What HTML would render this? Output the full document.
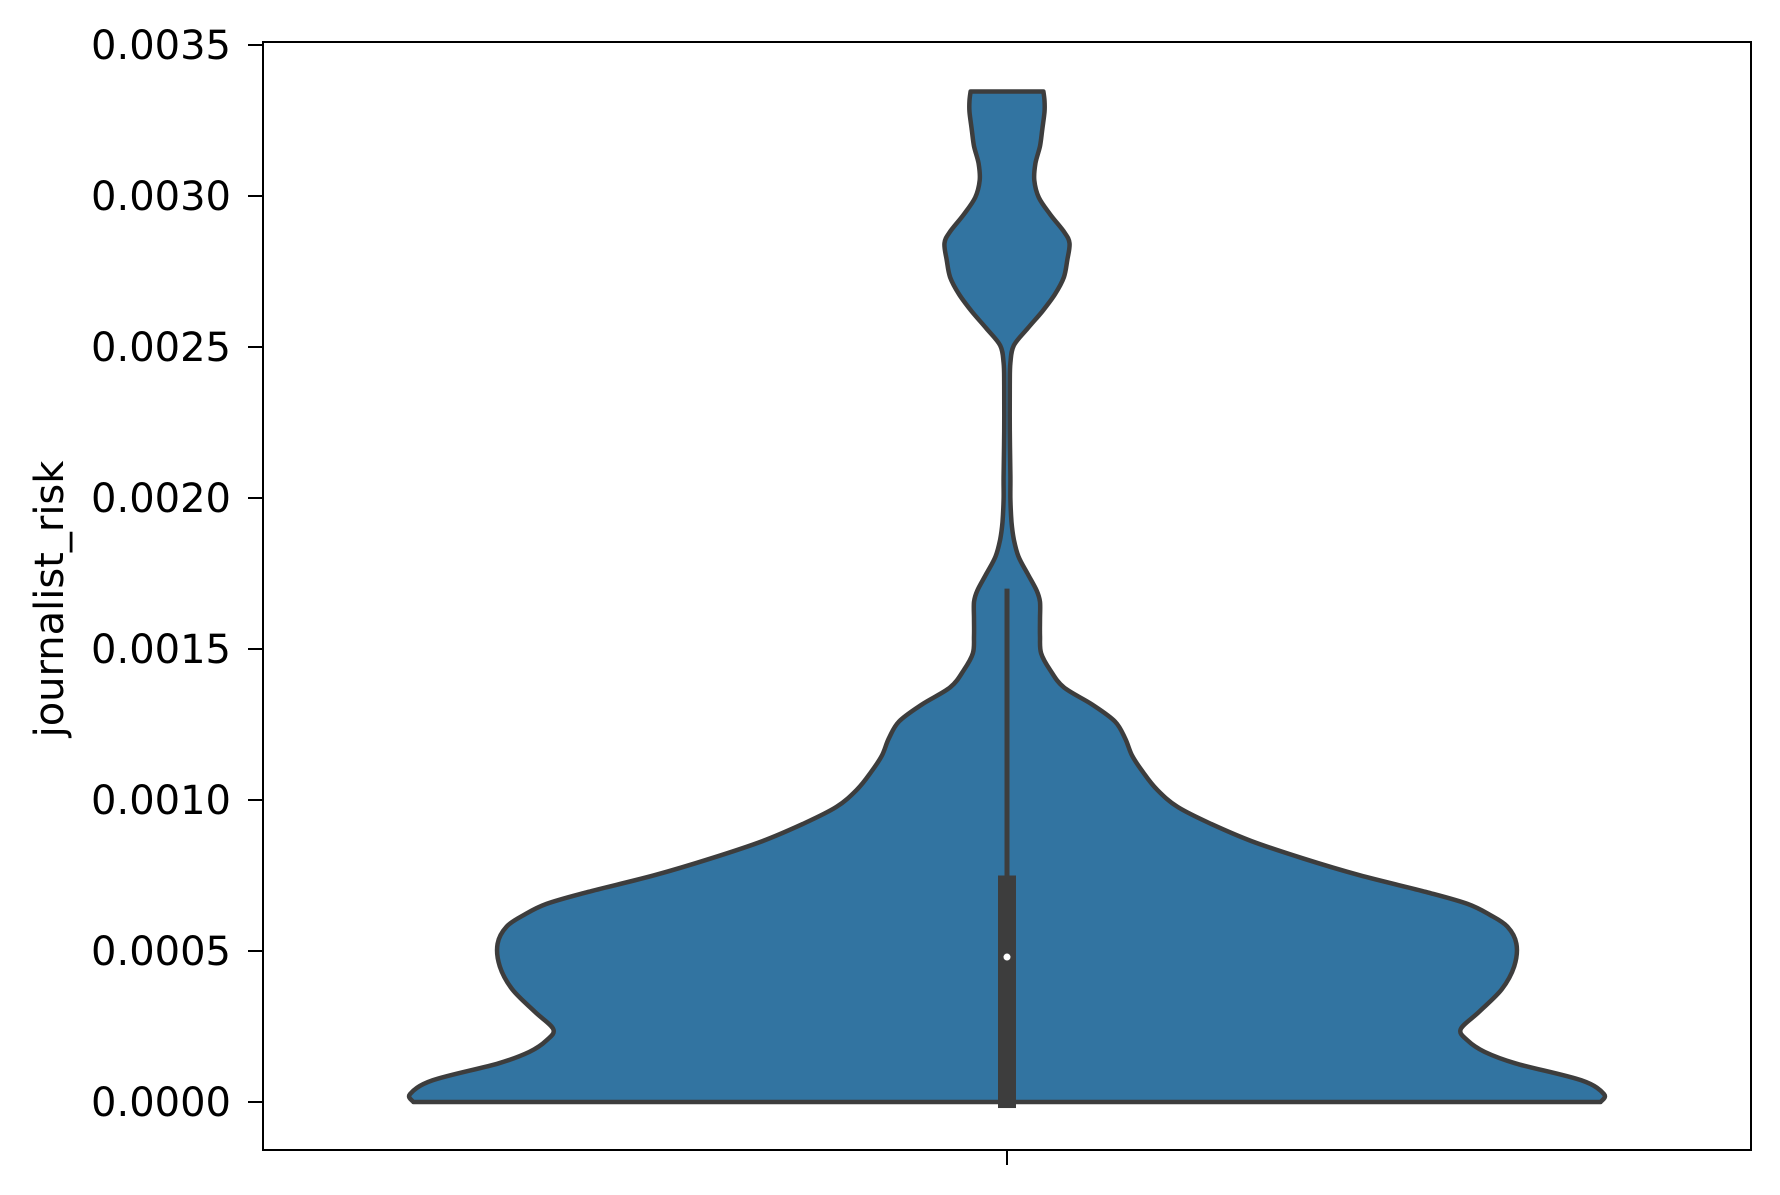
<!DOCTYPE html>
<html><head><meta charset="utf-8"><style>
html,body{margin:0;padding:0;background:#fff;}
svg{display:block;font-family:"DejaVu Sans","Liberation Sans",sans-serif;}
</style></head><body>
<svg id="chart" width="1780" height="1195" viewBox="0 0 1780 1195" xmlns="http://www.w3.org/2000/svg">
<rect width="1780" height="1195" fill="#fff"/>
<g id="plot"></g>
<text x="63" y="599" transform="rotate(-90 63 599)" text-anchor="middle" font-size="40" fill="#000">journalist_risk</text>
</svg>
<script>
// data (risk values in units of 1e-4, density = relative half-width)
const riskValues = [0,0.26,0.72,1.28,1.66,2.04,2.41,2.98,3.73,4.49,5.24,5.81,6.19,6.56,6.94,7.51,8.07,8.64,9.20,9.77,10.34,10.90,11.47,12.03,12.60,13.16,13.73,14.30,14.86,15.43,15.99,16.56,16.94,17.50,18.07,18.63,19.20,19.95,20.71,22.22,23.73,24.48,25.05,25.61,26.18,26.74,27.31,27.88,28.44,28.82,29.39,29.95,30.52,31.08,31.65,32.21,32.78,33.16,33.46];
const density = [522,525,505,447,420,405,399,415,435,446,448,440,425,405,370,310,260,215,180,150,132,120,110,104,95,75,50,38,30,29,29,29,26,18,10,6,4,3,3,2.5,2.5,3,6,18,31,42,50,53,55,50,38,28,24,25,29,31,33,33,32];
const yTicks = [0,5,10,15,20,25,30,35];
const tickLabels = ["0.0000","0.0005","0.0010","0.0015","0.0020","0.0025","0.0030","0.0035"];
const boxStats = {q1:-0.2, q3:7.5, median:4.8, whiskerLow:-0.2, whiskerHigh:17.0};

const NS="http://www.w3.org/2000/svg";
const L=263,R=1751,T=42,B=1150,CX=1007;
const y = v => 1102 - v*(1057/35);
const maxHalf = 597;
const dMax = Math.max(...density);
const w = d => d/dMax*maxHalf;
const g=document.getElementById('plot');
function mk(tag,attrs){const e=document.createElementNS(NS,tag);for(const k in attrs)e.setAttribute(k,attrs[k]);g.appendChild(e);return e;}

let P=[];
for(let i=0;i<riskValues.length;i++)P.push([CX+w(density[i]),y(riskValues[i])]);
function smooth(arr){let d="";for(let i=0;i<arr.length-1;i++){const p0=arr[Math.max(0,i-1)],p1=arr[i],p2=arr[i+1],p3=arr[Math.min(arr.length-1,i+2)];
const c1=[p1[0]+(p2[0]-p0[0])/6,p1[1]+(p2[1]-p0[1])/6],c2=[p2[0]-(p3[0]-p1[0])/6,p2[1]-(p3[1]-p1[1])/6];
d+=` C${c1[0].toFixed(1)},${c1[1].toFixed(1)} ${c2[0].toFixed(1)},${c2[1].toFixed(1)} ${p2[0].toFixed(1)},${p2[1].toFixed(1)}`;}return d;}
const Lp=P.slice().reverse().map(p=>[2*CX-p[0],p[1]]);
const d=`M${(2*CX-P[0][0]).toFixed(1)},${P[0][1].toFixed(1)} L${P[0][0].toFixed(1)},${P[0][1].toFixed(1)}`+smooth(P)+` L${Lp[0][0].toFixed(1)},${Lp[0][1].toFixed(1)}`+smooth(Lp)+" Z";
const vp=mk('path',{d:d,fill:'#3274a1',stroke:'#3d3d3d','stroke-width':4.5,'stroke-linejoin':'round'});



const wl=mk('line',{x1:CX,x2:CX,y1:y(boxStats.whiskerLow),y2:y(boxStats.whiskerHigh),stroke:'#3d3d3d','stroke-width':5});


const bx=mk('rect',{x:CX-9,y:y(boxStats.q3),width:18,height:y(boxStats.q1)-y(boxStats.q3),fill:'#3d3d3d'});


const md=mk('circle',{cx:CX,cy:y(boxStats.median),r:3.5,fill:'#fff'});



const fr=mk('rect',{x:L,y:T,width:R-L,height:B-T,fill:'none',stroke:'#000','stroke-width':2});



for(let i=0;i<yTicks.length;i++){
  const yy=y(yTicks[i]);
  const tl=mk('line',{x1:L-15,x2:L,y1:yy,y2:yy,stroke:'#000','stroke-width':2});
  
  
  const tx=mk('text',{x:231,y:yy+14,'text-anchor':'end','font-size':40,fill:'#000'});
  tx.textContent=tickLabels[i];
  
  
}
const xt=mk('line',{x1:CX,x2:CX,y1:B,y2:B+15,stroke:'#000','stroke-width':2});


</script>
</body></html>
